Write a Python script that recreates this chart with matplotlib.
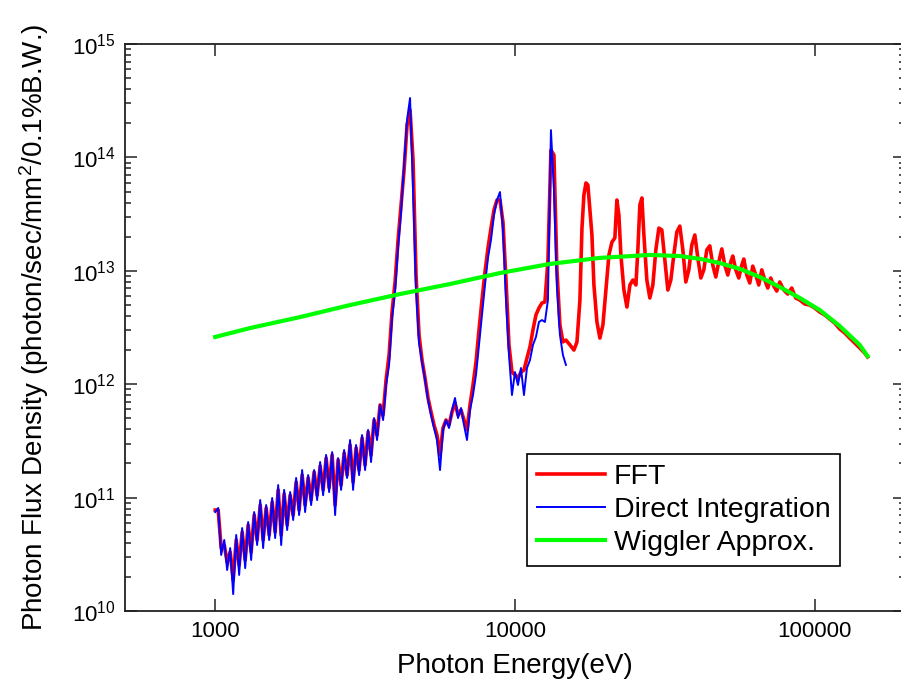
import matplotlib
matplotlib.use('Agg')
import matplotlib.pyplot as plt
from matplotlib.ticker import LogLocator, NullLocator, FixedLocator, FixedFormatter

plt.rcParams['font.family'] = ['Liberation Sans', 'DejaVu Sans']
plt.rcParams['mathtext.fontset'] = 'custom'
plt.rcParams['mathtext.rm'] = 'Liberation Sans'
plt.rcParams['mathtext.it'] = 'Liberation Sans:italic'

# photon energy (eV) shared by both calculations up to ~15 keV
energy_lo = [1000, 1023, 1047, 1072, 1096, 1122, 1148, 1175, 1202, 1230,
             1259, 1288, 1318, 1349, 1380, 1413, 1445, 1479, 1514, 1549,
             1585, 1622, 1660, 1698, 1738, 1778, 1820, 1862, 1905, 1950,
             1995, 2042, 2089, 2138, 2188, 2239, 2291, 2344, 2399, 2455,
             2512, 2570, 2630, 2692, 2754, 2818, 2884, 2951, 3020, 3090,
             3162, 3236, 3311, 3388, 3467, 3548, 3631, 3715, 3802, 3890,
             3981, 4074, 4169, 4266, 4365, 4467, 4571, 4677, 4786, 4898,
             5012, 5129, 5248, 5370, 5495, 5623, 5754, 5888, 6026, 6166,
             6310, 6457, 6607, 6761, 6918, 7079, 7244, 7413, 7586, 7762,
             7943, 8128, 8318, 8511, 8710, 8913, 9120, 9333, 9550, 9772,
             10000, 10233, 10471, 10715, 10965, 11220, 11482, 11749, 12023, 12303,
             12589, 12882, 13183, 13490, 13804, 14125, 14454, 14791]

fft_lo = [7.77e10, 7.77e10, 3.59e10, 3.82e10, 2.70e10, 3.31e10, 1.88e10, 4.23e10, 2.54e10, 4.97e10,
          2.82e10, 5.73e10, 3.31e10, 7.02e10, 4.23e10, 8.60e10, 4.23e10, 8.10e10, 4.68e10, 9.14e10,
          4.97e10, 1.17e11, 4.68e10, 1.08e11, 5.73e10, 1.05e11, 7.02e10, 1.37e11, 7.77e10, 1.58e11,
          8.60e10, 1.49e11, 9.52e10, 1.68e11, 1.05e11, 1.90e11, 1.17e11, 2.23e11, 1.22e11, 2.38e11,
          8.60e10, 2.15e11, 1.29e11, 2.47e11, 1.58e11, 2.91e11, 1.37e11, 2.74e11, 1.75e11, 3.35e11,
          1.94e11, 3.79e11, 2.38e11, 4.83e11, 3.56e11, 6.56e11, 5.35e11, 1.09e12, 1.81e12, 4.33e12,
          7.97e12, 1.87e13, 3.80e13, 7.74e13, 1.93e14, 2.62e14, 9.49e13, 9.18e12, 2.72e12, 1.63e12,
          1.13e12, 7.56e11, 5.69e11, 4.37e11, 3.56e11, 2.38e11, 4.11e11, 4.83e11, 4.37e11, 5.69e11,
          6.83e11, 5.35e11, 5.92e11, 4.83e11, 3.95e11, 6.56e11, 9.84e11, 1.57e12, 3.01e12, 5.53e12,
          9.76e12, 1.59e13, 2.38e13, 3.44e13, 4.21e13, 4.21e13, 2.69e13, 8.30e12, 2.22e12, 1.28e12,
          1.21e12, 1.13e12, 1.28e12, 1.33e12, 1.70e12, 2.13e12, 3.01e12, 4.08e12, 4.70e12, 5.20e12,
          5.31e12, 1.25e13, 1.16e14, 1.05e14, 1.02e13, 3.33e12, 2.36e12, 2.45e12]

direct_flux = [7.46e10, 8.10e10, 3.12e10, 4.23e10, 2.30e10, 3.59e10, 1.41e10, 4.68e10, 2.08e10, 5.39e10,
               2.39e10, 6.09e10, 2.82e10, 7.46e10, 3.82e10, 9.52e10, 3.59e10, 8.60e10, 4.23e10, 9.92e10,
               4.40e10, 1.29e11, 3.82e10, 1.17e11, 5.18e10, 1.12e11, 6.35e10, 1.49e11, 7.02e10, 1.75e11,
               7.46e10, 1.58e11, 8.60e10, 1.75e11, 9.52e10, 2.06e11, 1.05e11, 2.38e11, 1.12e11, 2.52e11,
               7.02e10, 2.23e11, 1.17e11, 2.63e11, 1.49e11, 3.22e11, 1.17e11, 2.91e11, 1.58e11, 3.56e11,
               1.75e11, 3.95e11, 2.06e11, 5.03e11, 3.22e11, 6.56e11, 4.83e11, 9.84e11, 1.48e12, 3.84e12,
               6.50e12, 1.59e13, 3.30e13, 8.57e13, 2.14e14, 3.34e14, 5.16e13, 6.77e12, 2.31e12, 1.57e12,
               1.09e12, 7.26e11, 5.35e11, 4.11e11, 3.22e11, 1.75e11, 3.95e11, 4.83e11, 4.11e11, 5.92e11,
               7.56e11, 5.03e11, 6.17e11, 4.37e11, 3.22e11, 5.92e11, 8.03e11, 1.21e12, 2.22e12, 4.08e12,
               7.50e12, 1.30e13, 1.87e13, 3.10e13, 4.21e13, 4.95e13, 2.29e13, 5.53e12, 1.81e12, 8.03e11,
               1.28e12, 9.84e11, 1.39e12, 8.03e11, 1.39e12, 1.63e12, 2.22e12, 2.61e12, 3.54e12, 3.68e12,
               3.54e12, 5.53e12, 1.74e14, 5.16e13, 7.20e12, 2.72e12, 1.81e12, 1.48e12]

# FFT result continues to 150 keV
energy_hi = [15260, 15730, 16100, 16470, 16730, 16980, 17250, 17510, 17780, 18060,
             18340, 18770, 19200, 19650, 20110, 20580, 21060, 21540, 21880, 22220,
             22560, 23090, 23630, 24180, 24740, 25320, 25700, 26100, 26510, 26920,
             27540, 28180, 28840, 29510, 30200, 30900, 31620, 32360, 33110, 33880,
             34670, 35480, 36310, 37150, 38020, 38900, 39810, 40740, 41690, 42660,
             43650, 44670, 45710, 46770, 47860, 48980, 50120, 51290, 52480, 53290,
             54530, 55800, 57100, 57990, 59340, 60720, 62130, 63580, 65060, 66580,
             68130, 69720, 71340, 73000, 74700, 76440, 78830, 81280, 83810, 86420,
             89130, 92610, 96240, 100000, 103900, 107980, 112200, 116590, 121150, 125890,
             130820, 135940, 141250, 146780, 150000]

fft_hi = [2.22e12, 2.00e12, 2.36e12, 5.53e12, 2.38e13, 4.66e13, 5.95e13, 5.71e13, 3.44e13, 2.07e13,
          7.50e12, 3.54e12, 2.55e12, 3.33e12, 6.77e12, 1.38e13, 1.79e13, 1.95e13, 4.21e13, 3.10e13,
          1.38e13, 6.77e12, 4.79e12, 7.50e12, 8.30e12, 7.50e12, 1.53e13, 3.80e13, 4.39e13, 2.07e13,
          8.30e12, 5.76e12, 7.50e12, 1.53e13, 2.38e13, 2.29e13, 1.25e13, 6.77e12, 8.30e12, 1.38e13,
          2.20e13, 2.48e13, 1.53e13, 7.97e12, 1.02e13, 1.69e13, 2.07e13, 1.30e13, 8.64e12, 1.02e13,
          1.53e13, 1.66e13, 1.12e13, 8.82e12, 1.20e13, 1.56e13, 1.12e13, 9.18e12, 1.20e13, 1.35e13,
          1.02e13, 8.64e12, 1.12e13, 1.27e13, 9.18e12, 7.81e12, 1.10e13, 9.18e12, 7.50e12, 1.02e13,
          8.30e12, 7.05e12, 8.64e12, 7.34e12, 6.63e12, 7.97e12, 6.77e12, 6.24e12, 7.05e12, 5.76e12,
          5.53e12, 5.10e12, 4.99e12, 4.70e12, 4.33e12, 4.08e12, 3.76e12, 3.46e12, 3.07e12, 2.83e12,
          2.55e12, 2.31e12, 2.09e12, 1.88e12, 1.74e12]

wiggler_energy = [1000, 1308, 1920, 2818, 4137, 6072, 8913, 13082, 19204, 28184,
                  35481, 41687, 48260, 56230, 65580, 76440, 89130, 103900, 121150, 141250,
                  150000]
wiggler_flux = [2.61e12, 3.13e12, 3.91e12, 4.99e12, 6.24e12, 7.65e12, 9.56e12, 1.15e13, 1.30e13, 1.38e13,
                1.35e13, 1.27e13, 1.17e13, 1.04e13, 8.82e12, 7.20e12, 5.76e12, 4.51e12, 3.26e12, 2.22e12,
                1.77e12]

x_ticks = [1000, 10000, 100000]
x_labels = ['1000', '10000', '100000']

fig = plt.figure(figsize=(9.01, 6.93), dpi=100)
ax = fig.add_axes([0.1387, 0.1183, 0.8657, 0.8182])

ax.plot(energy_lo + energy_hi, fft_lo + fft_hi, color='#ff0000', lw=2.6, label='FFT')
ax.plot(energy_lo, direct_flux, color='#0000ff', lw=1.4, label='Direct Integration')
ax.plot(wiggler_energy, wiggler_flux, color='#00ff00', lw=3.0, label='Wiggler Approx.')

ax.set_xscale('log')
ax.set_yscale('log')
ax.set_xlim(500, 2e5)
ax.set_ylim(1e10, 1e15)

ax.xaxis.set_major_locator(FixedLocator(x_ticks))
ax.xaxis.set_major_formatter(FixedFormatter(x_labels))
ax.xaxis.set_minor_locator(NullLocator())
ax.yaxis.set_major_locator(LogLocator(base=10))
ax.yaxis.set_minor_locator(LogLocator(base=10, subs=(2, 3, 4, 5, 6, 7, 8, 9)))

ax.tick_params(which='both', direction='in', top=True, right=True, width=1.1, color='#222222')
ax.tick_params(which='major', length=8.5, labelsize=16, pad=7)
ax.tick_params(which='minor', length=4.3)
for s in ax.spines.values():
    s.set_linewidth(1.3)
    s.set_color('#222222')

ax.set_xlabel('Photon Energy(eV)', fontsize=20, labelpad=8)
ax.set_ylabel('Photon Flux Density (photon/sec/mm$^2$/0.1%B.W.)', fontsize=20, labelpad=15)

leg = ax.legend(loc='lower left', bbox_to_anchor=(0.515, 0.079), borderaxespad=0,
                fontsize=20.5, fancybox=False, edgecolor='black', framealpha=1,
                handlelength=2.4, handletextpad=0.3, borderpad=0.35, labelspacing=0.25)
leg.get_frame().set_linewidth(1.2)

fig.savefig('out.png', dpi=100)
